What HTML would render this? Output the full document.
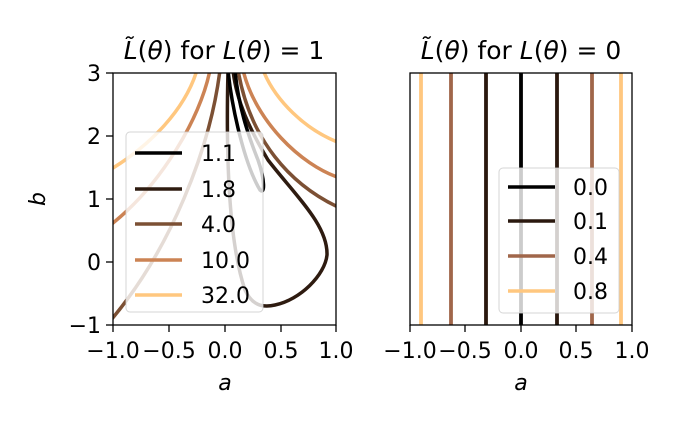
<!DOCTYPE html>
<html><head><meta charset="utf-8"><style>html,body{margin:0;padding:0;background:#fff}svg{display:block}</style></head>
<body>
<svg width="677" height="423" xmlns="http://www.w3.org/2000/svg" font-family="DejaVu Sans, Liberation Sans, sans-serif">
<rect width="677" height="423" fill="#fff"/>
<defs><clipPath id="c1"><rect x="113" y="73" width="223" height="252"/></clipPath>
<clipPath id="c2"><rect x="410" y="73" width="222" height="252"/></clipPath></defs>
<g clip-path="url(#c1)" fill="none" stroke-width="3.5" stroke-linecap="round">
<path d="M113,168 C150,145 185,110 197,70" stroke="#ffc77f"/>
<path d="M263,70 C275,100 305,130 340,143" stroke="#ffc77f"/>
<path d="M113,223 C160,185 200,120 210,70" stroke="#cc8354"/>
<path d="M243,70 C255,120 300,165 340,178" stroke="#cc8354"/>
<path d="M111,320 C170,250 210,150 220,70" stroke="#7c5034"/>
<path d="M238,70 C250,140 290,185 340,208" stroke="#7c5034"/>
<path d="M228,70 C226,150 228,240 245,290 C252,305 262,308 275,305 C300,300 325,275 327,255 C328,225 295,195 268,160 C250,130 236,100 233,70" stroke="#2e1b10"/>
<path d="M228,70 C232,110 245,165 260,190 C265,195 265,180 258,160 C248,135 238,105 235,70" stroke="#000"/>
</g>
<rect x="126" y="132" width="137" height="180" rx="4" fill="#fff" fill-opacity="0.8" stroke="#ccc" stroke-opacity="0.8"/>
<g stroke-width="3.5">
<line x1="135" y1="153" x2="182" y2="153" stroke="#000"/>
<line x1="135" y1="189" x2="182" y2="189" stroke="#2e1b10"/>
<line x1="135" y1="224" x2="182" y2="224" stroke="#7c5034"/>
<line x1="135" y1="260" x2="182" y2="260" stroke="#cc8354"/>
<line x1="135" y1="295" x2="182" y2="295" stroke="#ffc77f"/>
</g>
<g font-size="22" fill="#000">
<text x="201" y="161">1.1</text><text x="201" y="197">1.8</text><text x="201" y="232">4.0</text><text x="201" y="268">10.0</text><text x="201" y="303">32.0</text>
</g>
<rect x="113" y="73" width="223" height="252" fill="none" stroke="#000" stroke-width="1.3"/>
<g clip-path="url(#c2)" stroke-width="3.8">
<line x1="421" y1="73" x2="421" y2="325" stroke="#ffc77f"/>
<line x1="451" y1="73" x2="451" y2="325" stroke="#a0664a"/>
<line x1="486" y1="73" x2="486" y2="325" stroke="#2a180e"/>
<line x1="521" y1="73" x2="521" y2="325" stroke="#000"/>
<line x1="557" y1="73" x2="557" y2="325" stroke="#2a180e"/>
<line x1="592" y1="73" x2="592" y2="325" stroke="#a0664a"/>
<line x1="621" y1="73" x2="621" y2="325" stroke="#ffc77f"/>
</g>
<rect x="499" y="168" width="120" height="145" rx="4" fill="#fff" fill-opacity="0.8" stroke="#ccc" stroke-opacity="0.8"/>
<g stroke-width="3.5">
<line x1="508" y1="187" x2="555" y2="187" stroke="#000"/>
<line x1="508" y1="221" x2="555" y2="221" stroke="#2a180e"/>
<line x1="508" y1="256" x2="555" y2="256" stroke="#a0664a"/>
<line x1="508" y1="291" x2="555" y2="291" stroke="#ffc77f"/>
</g>
<g font-size="22" fill="#000">
<text x="573" y="195">0.0</text><text x="573" y="229">0.1</text><text x="573" y="264">0.4</text><text x="573" y="299">0.8</text>
</g>
<rect x="410" y="73" width="222" height="252" fill="none" stroke="#000" stroke-width="1.3"/>
<g stroke="#000" stroke-width="1.3">
<line x1="113" y1="325" x2="113" y2="332"/><line x1="169" y1="325" x2="169" y2="332"/><line x1="225" y1="325" x2="225" y2="332"/><line x1="281" y1="325" x2="281" y2="332"/><line x1="336" y1="325" x2="336" y2="332"/>
<line x1="410" y1="325" x2="410" y2="332"/><line x1="465" y1="325" x2="465" y2="332"/><line x1="521" y1="325" x2="521" y2="332"/><line x1="576" y1="325" x2="576" y2="332"/><line x1="632" y1="325" x2="632" y2="332"/>
<line x1="106" y1="73" x2="113" y2="73"/><line x1="106" y1="136" x2="113" y2="136"/><line x1="106" y1="199" x2="113" y2="199"/><line x1="106" y1="262" x2="113" y2="262"/><line x1="106" y1="325" x2="113" y2="325"/>
</g>
<g font-size="22" fill="#000" text-anchor="middle">
<text x="113" y="358">−1.0</text><text x="169" y="358">−0.5</text><text x="225" y="358">0.0</text><text x="281" y="358">0.5</text><text x="336" y="358">1.0</text>
<text x="410" y="358">−1.0</text><text x="465" y="358">−0.5</text><text x="521" y="358">0.0</text><text x="576" y="358">0.5</text><text x="632" y="358">1.0</text>
<text x="225" y="390" font-style="italic">a</text><text x="521" y="390" font-style="italic">a</text>
</g>
<g font-size="22" fill="#000" text-anchor="end">
<text x="101" y="81">3</text><text x="101" y="144">2</text><text x="101" y="207">1</text><text x="101" y="270">0</text><text x="101" y="333">−1</text>
</g>
<text x="38" y="199" font-size="22" font-style="italic" text-anchor="middle" transform="rotate(-90 38 199)" dy="7">b</text>
<g font-size="25" fill="#000" text-anchor="middle">
<text x="224" y="59"><tspan font-style="italic">L̃</tspan>(<tspan font-style="italic">θ</tspan>) for <tspan font-style="italic">L</tspan>(<tspan font-style="italic">θ</tspan>) = 1</text>
<text x="521" y="59"><tspan font-style="italic">L̃</tspan>(<tspan font-style="italic">θ</tspan>) for <tspan font-style="italic">L</tspan>(<tspan font-style="italic">θ</tspan>) = 0</text>
</g>
</svg>
</body></html>
